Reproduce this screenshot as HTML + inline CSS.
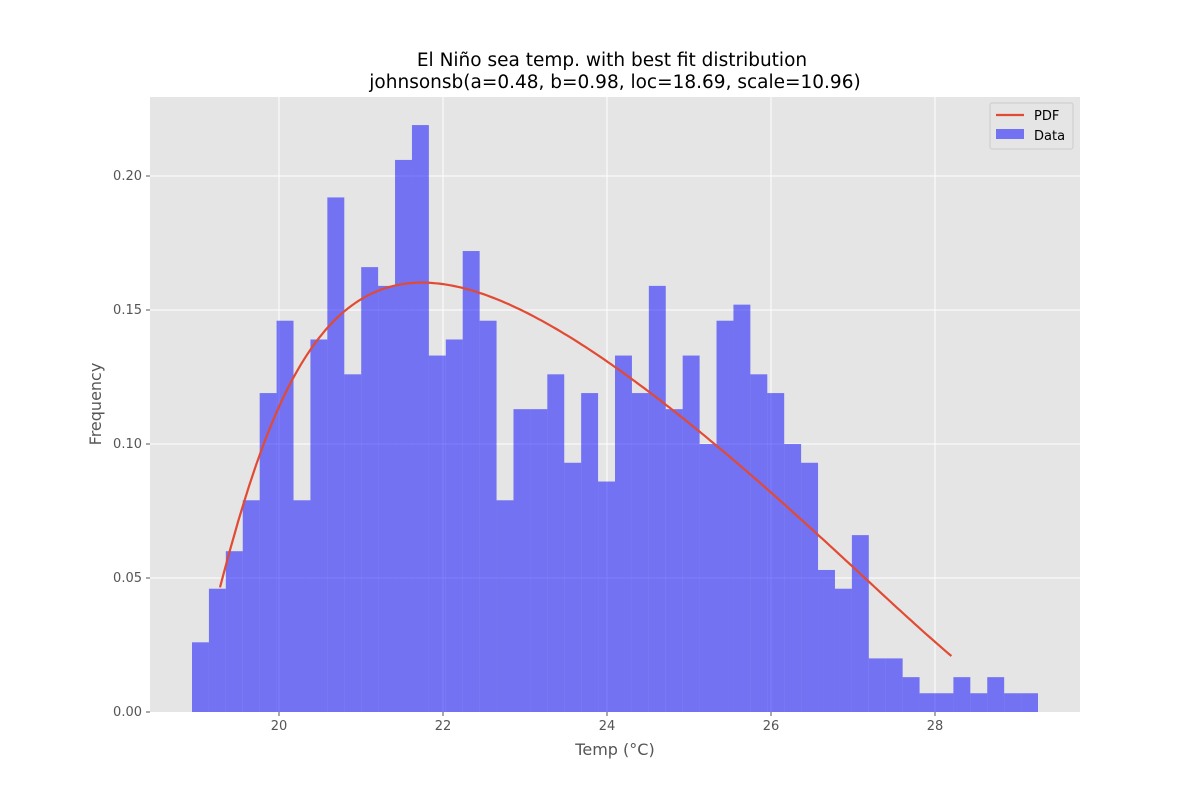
<!DOCTYPE html>
<html><head><meta charset="utf-8"><style>
html,body{margin:0;padding:0;background:#fff;}
svg{display:block;font-family:"DejaVu Sans","Liberation Sans",sans-serif;}
</style></head><body>
<svg id="s" width="1200" height="800" viewBox="0 0 1200 800" xmlns="http://www.w3.org/2000/svg">
<rect x="0" y="0" width="1200" height="800" fill="#fff"/>
<rect x="150" y="97" width="930" height="615" fill="#e5e5e5"/>
<g stroke="#fff" stroke-width="1">
<line x1="279" y1="97" x2="279" y2="712"/><line x1="443" y1="97" x2="443" y2="712"/>
<line x1="607" y1="97" x2="607" y2="712"/><line x1="771" y1="97" x2="771" y2="712"/>
<line x1="935" y1="97" x2="935" y2="712"/>
<line x1="150" y1="578" x2="1080" y2="578"/><line x1="150" y1="444" x2="1080" y2="444"/>
<line x1="150" y1="310" x2="1080" y2="310"/><line x1="150" y1="176" x2="1080" y2="176"/>
</g>
<g id="bars" fill="#0000ff" fill-opacity="0.5"></g>
<path id="pdf" fill="none" stroke="#e24a33" stroke-width="2.2"/>
<g fill="#555" font-size="13" text-anchor="middle">
<text x="279" y="730">20</text><text x="443" y="730">22</text><text x="607" y="730">24</text>
<text x="771" y="730">26</text><text x="935" y="730">28</text>
</g>
<g fill="#555" font-size="13" text-anchor="end">
<text x="142" y="716">0.00</text><text x="142" y="582">0.05</text><text x="142" y="448">0.10</text>
<text x="142" y="314">0.15</text><text x="142" y="180">0.20</text>
</g>
<g stroke="#555" stroke-width="1">
<line x1="279" y1="712" x2="279" y2="716"/><line x1="443" y1="712" x2="443" y2="716"/>
<line x1="607" y1="712" x2="607" y2="716"/><line x1="771" y1="712" x2="771" y2="716"/>
<line x1="935" y1="712" x2="935" y2="716"/>
<line x1="146" y1="712" x2="150" y2="712"/><line x1="146" y1="578" x2="150" y2="578"/>
<line x1="146" y1="444" x2="150" y2="444"/><line x1="146" y1="310" x2="150" y2="310"/>
<line x1="146" y1="176" x2="150" y2="176"/>
</g>
<text x="615" y="755" fill="#555" font-size="16" text-anchor="middle">Temp (°C)</text>
<text transform="translate(101,404) rotate(-90)" fill="#555" font-size="16" text-anchor="middle">Frequency</text>
<text x="612" y="66" font-size="18.5" text-anchor="middle" fill="#000">El Niño sea temp. with best fit distribution</text>
<text x="615" y="88" font-size="18.5" text-anchor="middle" fill="#000">johnsonsb(a=0.48, b=0.98, loc=18.69, scale=10.96)</text>
<rect x="990" y="103" width="83" height="46" fill="#e5e5e5" stroke="#ccc" rx="2"/>
<line x1="996" y1="115" x2="1024" y2="115" stroke="#e24a33" stroke-width="2.2"/>
<text x="1034" y="120" font-size="13" fill="#000">PDF</text>
<rect x="996" y="129" width="28" height="10" fill="#0000ff" fill-opacity="0.5"/>
<text x="1034" y="140" font-size="13" fill="#000">Data</text>
</svg>
<script>
var h=[0.026,0.046,0.060,0.079,0.119,0.146,0.079,0.139,0.192,0.126,0.166,0.159,0.206,0.219,0.133,0.139,0.172,0.146,0.079,0.113,0.113,0.126,0.093,0.119,0.086,0.133,0.119,0.159,0.113,0.133,0.100,0.146,0.152,0.126,0.119,0.100,0.093,0.053,0.046,0.066,0.020,0.020,0.013,0.007,0.007,0.013,0.007,0.013,0.007,0.007];
var g=document.getElementById('bars'),ns='http://www.w3.org/2000/svg',w=16.92;
for(var i=0;i<h.length;i++){var r=document.createElementNS(ns,'rect');var x=192+i*w,y=712-h[i]*2680;
r.setAttribute('x',x);r.setAttribute('y',y);r.setAttribute('width',w);r.setAttribute('height',712-y);g.appendChild(r);}
var a=0.48,b=0.98,loc=18.69,sc=10.96,d='',x0=19.28,x1=28.2;
for(var k=0;k<=200;k++){var X=x0+k*(x1-x0)/200;var z=(X-loc)/sc;var t=a+b*Math.log(z/(1-z));
var p=b/(sc*z*(1-z))*Math.exp(-t*t/2)/Math.sqrt(2*Math.PI);
var px=279+(X-20)*82,py=712-p*2680;d+=(k?'L':'M')+px.toFixed(1)+','+py.toFixed(1);}
document.getElementById('pdf').setAttribute('d',d);
</script>
</body></html>
